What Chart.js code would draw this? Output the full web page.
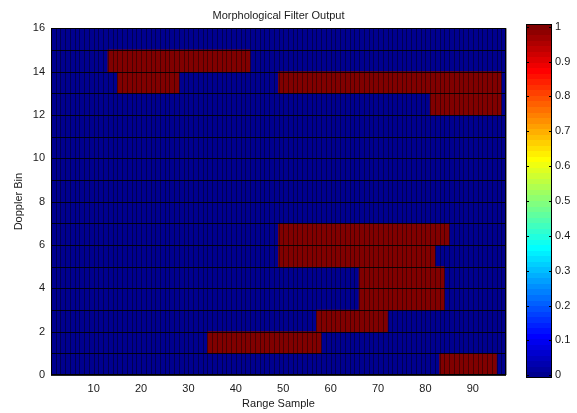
<!DOCTYPE html>
<html>
<head>
<meta charset="utf-8">
<script src="https://cdn.jsdelivr.net/npm/chart.js@4.4.1/dist/chart.umd.min.js"></script>
<style>
  html, body { margin: 0; padding: 0; background: #ffffff; }
  #wrap { position: relative; width: 577px; height: 413px; overflow: hidden; }
  #main { position: absolute; left: 0; top: 0; }
  #cbar { position: absolute; left: 514px; top: 0; }
</style>
</head>
<body>
<div id="wrap">
  <canvas id="main" width="577" height="413"></canvas>
  <canvas id="cbar" width="63" height="413"></canvas>
</div>
<script>
// ---------------- data ----------------
const dopplerBins = [0, 1, 2, 3, 4, 5, 6, 7, 8, 9, 10, 11, 12, 13, 14, 15];
const rangeLimits = [1, 97];
const xTickLabels = [10, 20, 30, 40, 50, 60, 70, 80, 90];
const yTickLabels = [0, 2, 4, 6, 8, 10, 12, 14, 16];

// runs of cells whose filter output is 1 (all other cells are 0)
const runBin   = [14, 13, 13, 12,  6,  5,  4,  3,  2,  1,  0];
const runStart = [13, 15, 49, 81, 49, 49, 66, 66, 57, 34, 83];
const runEnd   = [43, 28, 96, 96, 85, 82, 84, 84, 72, 58, 95];

const colorLimits = [0, 1];
const colorTicks = [0, 0.1, 0.2, 0.3, 0.4, 0.5, 0.6, 0.7, 0.8, 0.9, 1];

// ---------------- colormap (MATLAB jet, 64 levels) ----------------
function jetMap(n) {
  const m = Math.ceil(n / 4);
  const u = [];
  for (let i = 1; i <= m; i++) u.push(i / m);
  for (let i = 1; i < m; i++) u.push(1);
  for (let i = m; i >= 1; i--) u.push(i / m);
  const g0 = Math.ceil(m / 2) - (n % 4 === 1 ? 1 : 0);
  const map = Array.from({ length: n }, () => [0, 0, 0]);
  for (let k = 1; k <= u.length; k++) {
    const g = g0 + k, r = g + m, b = g - m;
    if (r >= 1 && r <= n) map[r - 1][0] = u[k - 1];
    if (g >= 1 && g <= n) map[g - 1][1] = u[k - 1];
    if (b >= 1 && b <= n) map[b - 1][2] = u[k - 1];
  }
  return map.map(c => `rgb(${Math.round(c[0] * 255)},${Math.round(c[1] * 255)},${Math.round(c[2] * 255)})`);
}
const jet = jetMap(64);
function colorFor(v) {
  const t = (v - colorLimits[0]) / (colorLimits[1] - colorLimits[0]);
  return jet[Math.max(0, Math.min(jet.length - 1, Math.floor(t * jet.length)))];
}

const FONT = { family: "'Liberation Sans', Arial, sans-serif", size: 11, weight: 'normal' };
const TXT = '#1a1a1a';

const framePlugin = {
  id: 'frame',
  afterDraw(chart) {
    const a = chart.chartArea, c = chart.ctx;
    c.save();
    c.strokeStyle = '#000';
    c.lineWidth = 1;
    c.strokeRect(Math.round(a.left) + 0.5, Math.round(a.top) + 0.5,
                 Math.round(a.right - a.left) - 1, Math.round(a.bottom - a.top) - 1);
    c.restore();
  }
};

// faceted cell edges (like MATLAB pcolor), placed with the chart's scales
const cellEdgesPlugin = {
  id: 'cellEdges',
  afterDatasetsDraw(chart) {
    const a = chart.chartArea, c = chart.ctx, xs = chart.scales.x, ys = chart.scales.y;
    c.save();
    c.lineWidth = 1;
    c.strokeStyle = 'rgba(0,0,0,0.42)';
    c.beginPath();
    for (let v = rangeLimits[0]; v <= rangeLimits[1]; v++) {
      const p = Math.round(xs.getPixelForValue(v)) + 0.5;
      c.moveTo(p, a.top); c.lineTo(p, a.bottom);
    }
    c.stroke();
    c.strokeStyle = 'rgba(0,0,0,0.85)';
    c.beginPath();
    dopplerBins.concat([dopplerBins[dopplerBins.length - 1] + 1]).forEach(b => {
      const p = Math.round(ys.getPixelForValue(b)) + 0.5;
      c.moveTo(a.left, p); c.lineTo(a.right, p);
    });
    c.stroke();
    c.restore();
  }
};

// ---------------- main heat map ----------------
const zeroCells = dopplerBins.map(b => ({ y: b + 0.5, x: [rangeLimits[0], rangeLimits[1]] }));
const oneCells = runBin.map((b, i) => ({ y: b + 0.5, x: [runStart[i], runEnd[i]] }));

new Chart(document.getElementById('main'), {
  type: 'bar',
  data: {
    datasets: [
      { label: '0', data: zeroCells, backgroundColor: colorFor(0), order: 2 },
      { label: '1', data: oneCells, backgroundColor: colorFor(1), order: 1 }
    ]
  },
  options: {
    responsive: false,
    animation: false,
    devicePixelRatio: 1,
    indexAxis: 'y',
    layout: { padding: { left: 0, right: 71, top: 0, bottom: 0 } },
    datasets: { bar: { grouped: false, barPercentage: 1, categoryPercentage: 1, borderWidth: 0 } },
    plugins: {
      legend: { display: false },
      tooltip: { enabled: false },
      title: {
        display: true, text: 'Morphological Filter Output', fullSize: false,
        color: TXT, font: FONT, padding: { top: 9, bottom: 6 }
      }
    },
    scales: {
      x: {
        type: 'linear', min: rangeLimits[0], max: rangeLimits[1], offset: false,
        afterFit: s => { s.height = 38; },
        grid: { display: false, offset: false, drawTicks: false },
        border: { display: false },
        ticks: {
          stepSize: 1, autoSkip: false, maxRotation: 0, padding: 7,
          color: TXT, font: FONT,
          callback: v => xTickLabels.includes(v) ? String(v) : ''
        },
        title: { display: true, text: 'Range Sample', color: TXT, font: FONT, padding: { top: 0, bottom: 2 } }
      },
      y: {
        type: 'linear', min: 0, max: 16, offset: false,
        afterFit: s => { s.width = 51; },
        grid: { display: false, offset: false, drawTicks: false },
        border: { display: false },
        ticks: {
          stepSize: 1, autoSkip: false, padding: 6,
          color: TXT, font: FONT,
          callback: v => yTickLabels.includes(v) ? String(v) : ''
        },
        title: { display: true, text: 'Doppler Bin', color: TXT, font: FONT, padding: { top: 12, bottom: 0 } }
      }
    }
  },
  plugins: [cellEdgesPlugin, framePlugin]
});

// ---------------- colour bar ----------------
const halfLevel = (colorLimits[1] - colorLimits[0]) / jet.length / 2;
const cbMin = colorLimits[0] - halfLevel, cbMax = colorLimits[1] + halfLevel;

new Chart(document.getElementById('cbar'), {
  type: 'bar',
  data: {
    labels: ['colorbar'],
    datasets: [{
      data: [[cbMin, cbMax]],
      borderWidth: 0,
      barPercentage: 1,
      categoryPercentage: 1,
      backgroundColor: (ctx) => {
        const ch = ctx.chart;
        if (!ch.chartArea) return jet[0];
        const ys = ch.scales.y;
        const g = ch.ctx.createLinearGradient(0, ys.getPixelForValue(cbMin), 0, ys.getPixelForValue(cbMax));
        const n = jet.length;
        for (let i = 0; i < n; i++) {
          g.addColorStop(i / n, jet[i]);
          g.addColorStop((i + 1) / n, jet[i]);
        }
        return g;
      }
    }]
  },
  options: {
    responsive: false,
    animation: false,
    devicePixelRatio: 1,
    layout: { padding: { left: 12, right: 0, top: 24, bottom: 35 } },
    plugins: { legend: { display: false }, tooltip: { enabled: false } },
    scales: {
      x: { display: false },
      y: {
        position: 'right', min: cbMin, max: cbMax,
        afterFit: s => { s.width = 25; },
        afterBuildTicks: s => { s.ticks = colorTicks.map(v => ({ value: v })); },
        grid: { display: false, drawTicks: false },
        border: { display: false },
        ticks: {
          padding: 3, color: TXT, font: FONT,
          callback: v => String(+Number(v).toFixed(1))
        }
      }
    }
  },
  plugins: [framePlugin, {
    id: 'cbTicks',
    afterDraw(chart) {
      const a = chart.chartArea, c = chart.ctx, ys = chart.scales.y;
      c.save();
      c.strokeStyle = '#000';
      c.lineWidth = 1;
      colorTicks.forEach(v => {
        const p = Math.round(ys.getPixelForValue(v)) + 0.5;
        c.beginPath();
        c.moveTo(a.left, p); c.lineTo(a.left + 3, p);
        c.moveTo(a.right, p); c.lineTo(a.right - 3, p);
        c.stroke();
      });
      c.restore();
    }
  }]
});
</script>
</body>
</html>
